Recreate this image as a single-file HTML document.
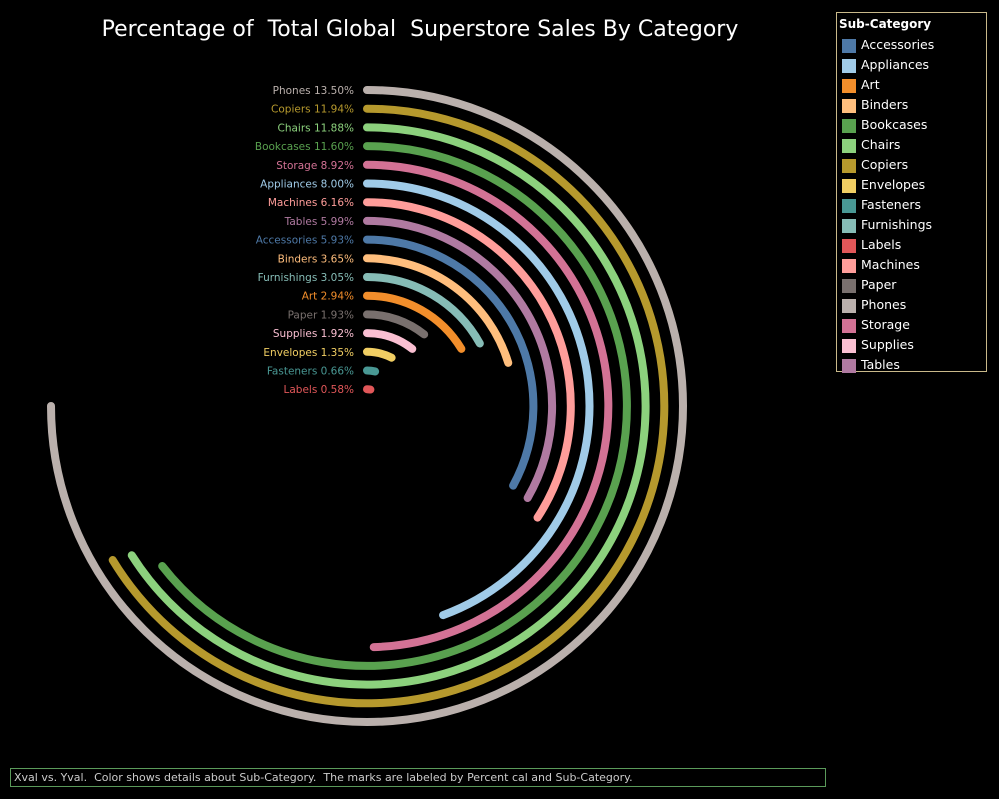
<!DOCTYPE html>
<html><head><meta charset="utf-8">
<style>
body{margin:0;background:#000;width:999px;height:799px;overflow:hidden;font-family:"Liberation Sans","DejaVu Sans",sans-serif;}
#title{position:absolute;left:0;width:840px;top:17px;text-align:center;color:#fff;font-size:22px;font-family:"DejaVu Sans",sans-serif;}
#legend{position:absolute;left:836px;top:12px;width:151px;height:360px;border:1px solid #c9b98a;box-sizing:border-box;}
#legend .t{color:#fff;font-weight:bold;font-size:12px;position:absolute;left:2px;top:4px;font-family:"DejaVu Sans",sans-serif;}
.li{position:absolute;left:5px;height:16px;color:#fff;font-size:12.5px;font-family:"DejaVu Sans",sans-serif;}
.li span{display:inline-block;width:14px;height:14px;vertical-align:middle;margin-right:5px;}
#footer{position:absolute;left:10px;top:768px;width:816px;height:19px;border:1px solid #5a9a5a;box-sizing:border-box;color:#ccc;font-size:11px;line-height:17px;padding-left:3px;font-family:"DejaVu Sans",sans-serif;}
</style></head><body>
<div id="title">Percentage of&nbsp; Total Global&nbsp; Superstore Sales By Category</div>
<svg id="chart" width="999" height="799" style="position:absolute;left:0;top:0"></svg>
<div id="legend"><div class="t">Sub-Category</div></div>
<div id="footer">Xval vs. Yval.&nbsp; Color shows details about Sub-Category.&nbsp; The marks are labeled by Percent cal and Sub-Category.</div>
<script>
const categories=["Phones","Copiers","Chairs","Bookcases","Storage","Appliances","Machines","Tables","Accessories","Binders","Furnishings","Art","Paper","Supplies","Envelopes","Fasteners","Labels"];
const values=[13.50,11.94,11.88,11.60,8.92,8.00,6.16,5.99,5.93,3.65,3.05,2.94,1.93,1.92,1.35,0.66,0.58];
const legendNames=["Accessories","Appliances","Art","Binders","Bookcases","Chairs","Copiers","Envelopes","Fasteners","Furnishings","Labels","Machines","Paper","Phones","Storage","Supplies","Tables"];
const legendColors=["#4e79a7","#a0cbe8","#f28e2b","#ffbe7d","#59a14f","#8cd17d","#b6992d","#f1ce63","#499894","#86bcb6","#e15759","#ff9d9a","#79706e","#bab0ac","#d37295","#fabfd2","#b07aa1"];
const NS="http://www.w3.org/2000/svg";
const svg=document.getElementById('chart');
const cx=367,cy=406,r0=316,step=18.7;
const maxV=Math.max(...values);
function angle(v){return v/maxV*270*Math.PI/180;}
function radius(i){return r0-i*step;}
function colorOf(name){return legendColors[legendNames.indexOf(name)];}
categories.forEach((c,i)=>{
  const r=radius(i),a=angle(values[i]);
  const x1=cx,y1=cy-r,x2=cx+r*Math.sin(a),y2=cy-r*Math.cos(a);
  const p=document.createElementNS(NS,'path');
  p.setAttribute('d',`M${x1},${y1} A${r},${r} 0 ${a>Math.PI?1:0} 1 ${x2.toFixed(2)},${y2.toFixed(2)}`);
  p.setAttribute('fill','none');p.setAttribute('stroke',colorOf(c));
  p.setAttribute('stroke-width','8');p.setAttribute('stroke-linecap','round');
  
  
  svg.appendChild(p);
  const t=document.createElementNS(NS,'text');
  t.setAttribute('x',354);t.setAttribute('y',cy-r+4);
  t.setAttribute('text-anchor','end');t.setAttribute('fill',colorOf(c));
  t.setAttribute('font-size','10.5');t.setAttribute('font-family','DejaVu Sans, sans-serif');
  t.textContent=c+' '+values[i].toFixed(2)+'%';
  
  
  svg.appendChild(t);
});
const lg=document.getElementById('legend');
legendNames.forEach((n,i)=>{
  const d=document.createElement('div');d.className='li';d.style.top=(24+i*20)+'px';
  d.innerHTML='<span style="background:'+legendColors[i]+'"></span>'+n;
  
  
  lg.appendChild(d);
});
</script>
</body></html>
